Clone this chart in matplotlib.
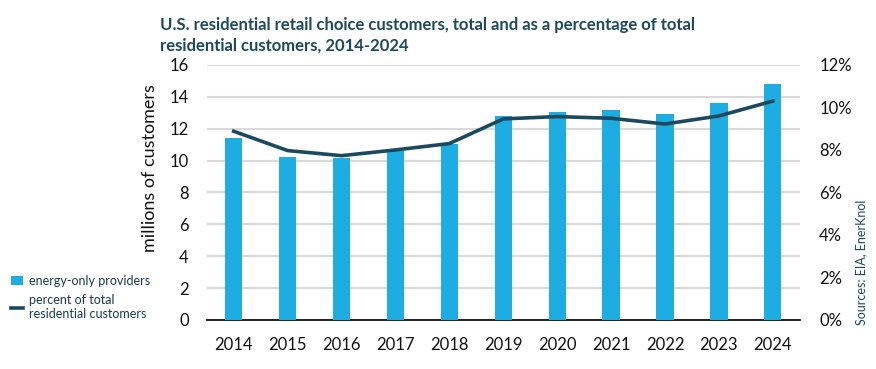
import matplotlib
matplotlib.use("Agg")
import matplotlib.pyplot as plt
from matplotlib.lines import Line2D
from matplotlib.patches import Patch

# ---------------------------------------------------------------------
# Data
# ---------------------------------------------------------------------

years = ["2014", "2015", "2016", "2017", "2018", "2019", "2020", "2021", "2022", "2023", "2024"]
customers_millions = [11.4, 10.25, 10.15, 10.6, 11.05, 12.8, 13.05, 13.15, 12.9, 13.6, 14.8]
percent_of_total = [8.88, 7.97, 7.73, 8.0, 8.3, 9.46, 9.57, 9.49, 9.22, 9.6, 10.3]

left_ticks = [0, 2, 4, 6, 8, 10, 12, 14, 16]
right_ticks = [0, 2, 4, 6, 8, 10, 12]

BAR = "#1DADE2"
LINE = "#1B4A5E"
TITLE = "#1F4A5C"

plt.rcParams["font.family"] = ["Lato", "DejaVu Sans"]

fig = plt.figure(figsize=(8.76, 3.69), dpi=100)
ax = fig.add_axes([0.236, 0.133, 0.677, 0.691])

x = list(range(len(years)))
ax.bar(x, customers_millions, width=0.32, color=BAR, zorder=3)
ax.set_xlim(-0.5, len(years) - 0.5)
ax.set_ylim(0, 16)
ax.set_yticks(left_ticks)
ax.set_xticks(x)
ax.set_xticklabels(years)
ax.yaxis.grid(True, color="#D9D9D9", linewidth=1.5, zorder=0)
ax.set_axisbelow(True)
for s in ["top", "right", "left"]:
    ax.spines[s].set_visible(False)
ax.spines["bottom"].set_color("#111111")
ax.spines["bottom"].set_linewidth(1.3)
ax.tick_params(length=0, labelsize=12, colors="#111111")
ax.tick_params(axis="x", pad=12)
ax.tick_params(axis="y", pad=13)

# y label sits a bit above the axis centre in the original
fig.text(0.171, 0.545, "millions of customers", rotation=90, fontsize=13,
         color="#111111", ha="center", va="center")

ax2 = ax.twinx()
ax2.plot(x, percent_of_total, color=LINE, linewidth=2.6, zorder=4)
ax2.set_ylim(0, 12)
ax2.set_yticks(right_ticks)
ax2.set_yticklabels([f"{t}%" for t in right_ticks])
for s in ax2.spines.values():
    s.set_visible(False)
ax2.tick_params(length=0, labelsize=12, colors="#111111", pad=14)

fig.text(0.183, 0.955, "U.S. residential retail choice customers, total and as a percentage of total\n"
         "residential customers, 2014-2024", fontsize=12, fontweight="bold",
         color=TITLE, va="top", ha="left", linespacing=1.4)

fig.text(0.983, 0.29, "Sources: EIA, EnerKnol", rotation=90, fontsize=9,
         color=LINE, ha="center", va="center")

handles = [Patch(facecolor=BAR, edgecolor="none"),
           Line2D([0], [0], color=LINE, linewidth=2.6)]
fig.legend(handles, ["energy-only providers", "percent of total\nresidential customers"],
           loc="upper left", bbox_to_anchor=(0.0, 0.285), frameon=False,
           fontsize=9, handlelength=0.9, handletextpad=0.5, labelspacing=0.55,
           labelcolor="#1B3A4B")

fig.savefig("out.png", dpi=100)
